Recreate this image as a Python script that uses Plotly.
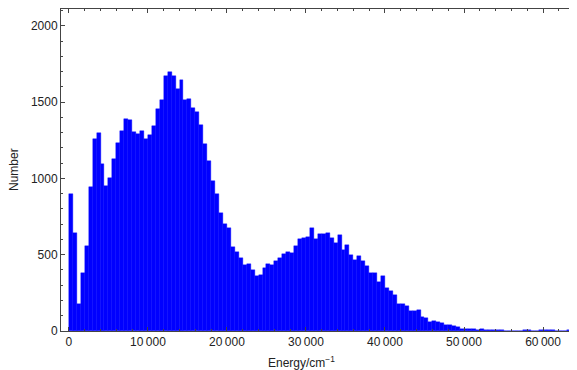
import plotly.graph_objects as go

bin_width = 500
counts = [
    897, 645, 179, 380, 558, 945, 1256, 1300, 1093, 949,
    1000, 1126, 1234, 1308, 1387, 1380, 1302, 1289, 1313, 1256,
    1284, 1341, 1454, 1513, 1669, 1700, 1669, 1584, 1648, 1511,
    1522, 1461, 1434, 1347, 1223, 1113, 982, 897, 771, 701,
    677, 549, 515, 481, 430, 440, 397, 358, 367, 414,
    441, 430, 456, 476, 507, 515, 510, 558, 604, 608,
    619, 677, 604, 636, 634, 641, 612, 575, 629, 532,
    564, 497, 467, 493, 456, 428, 378, 378, 321, 358,
    282, 262, 234, 175, 175, 162, 129, 129, 138, 95,
    82, 60, 66, 58, 53, 40, 42, 32, 25, 16,
    14, 14, 10, 9, 10, 6, 8, 4, 6, 5,
    3, 2, 3, 2, 2, 8, 4, 3, 3, 9,
    5, 8, 5, 2, 1, 2, 9, 6, 4, 6,
]
bin_starts = [i * bin_width for i in range(len(counts))]
bin_centers = [s + bin_width / 2 for s in bin_starts]

x_tickvals = [0, 10000, 20000, 30000, 40000, 50000, 60000]
x_ticktext = ["0", "10\u2009000", "20\u2009000", "30\u2009000", "40\u2009000", "50\u2009000", "60\u2009000"]
y_tickvals = [0, 500, 1000, 1500, 2000]
y_ticktext = ["0", "500", "1000", "1500", "2000"]
x_title = "Energy/cm<sup>\u22121</sup>"
y_title = "Number"

fig = go.Figure(
    go.Bar(
        x=bin_centers,
        y=counts,
        width=bin_width,
        marker=dict(color="rgb(0,0,255)", line=dict(color="rgb(0,0,255)", width=0.4)),
        hoverinfo="x+y",
    )
)

font = dict(family="Liberation Sans, Arial, sans-serif", size=12, color="#222222")
axis_col = "#444444"

fig.update_layout(
    width=569,
    height=362,
    margin=dict(l=53, r=0, t=1, b=39, autoexpand=False),
    plot_bgcolor="white",
    paper_bgcolor="white",
    bargap=0,
    showlegend=False,
    font=font,
    xaxis=dict(
        range=[-1000, 64300],
        tickvals=x_tickvals,
        ticktext=x_ticktext,
        ticks="inside",
        ticklen=4,
        tickwidth=1,
        tickcolor=axis_col,
        showline=True,
        linecolor=axis_col,
        linewidth=1,
        mirror="ticks",
        showgrid=False,
        zeroline=False,
        automargin=False,
        minor=dict(dtick=2000, tick0=0, ticks="inside", ticklen=2, tickcolor=axis_col, showgrid=False),
        tickfont=dict(size=12),
    ),
    yaxis=dict(
        range=[0, 2110],
        tickvals=y_tickvals,
        ticktext=y_ticktext,
        ticks="inside",
        ticklen=4,
        tickwidth=1,
        tickcolor=axis_col,
        showline=True,
        linecolor=axis_col,
        linewidth=1,
        mirror=False,
        showgrid=False,
        zeroline=False,
        automargin=False,
        minor=dict(dtick=100, tick0=0, ticks="inside", ticklen=2, tickcolor=axis_col, showgrid=False),
        tickfont=dict(size=12),
    ),
    annotations=[
        dict(text=x_title, xref="paper", yref="paper", x=0.467, y=0, yshift=-31,
             xanchor="center", yanchor="middle", showarrow=False, font=dict(size=12)),
        dict(text=y_title, xref="paper", yref="paper", x=0, y=0.5, xshift=-47,
             xanchor="center", yanchor="middle", textangle=-90, showarrow=False, font=dict(size=12)),
    ],
)

fig.write_html("out.html")
